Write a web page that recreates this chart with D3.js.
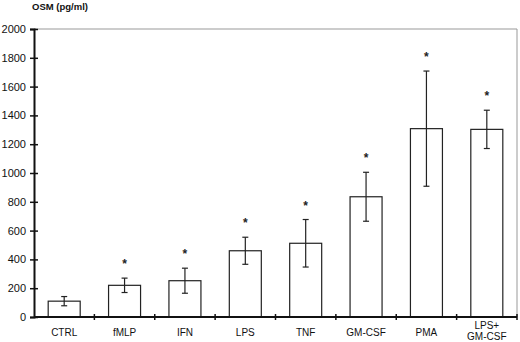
<!DOCTYPE html>
<html>
<head>
<meta charset="utf-8">
<script src="https://cdn.jsdelivr.net/npm/d3@7"></script>
<style>
  body { margin: 0; background: #fff; }
  svg { display: block; font-family: "Liberation Sans", Arial, sans-serif; }
</style>
</head>
<body>
<div id="chart"></div>
<script>
// OSM release per stimulus (pg/ml), mean and error bar half-length
const categories = ['CTRL', 'fMLP', 'IFN', 'LPS', 'TNF', 'GM-CSF', 'PMA', 'LPS+\nGM-CSF'];
const means = [110, 220, 252, 460, 512, 835, 1308, 1303];
const errors = [32, 50, 87, 94, 165, 170, 400, 133];
const significant = [false, true, true, true, true, true, true, true];
const yTicks = [0, 200, 400, 600, 800, 1000, 1200, 1400, 1600, 1800, 2000];

const width = 520, height = 342;
const margin = { top: 29, right: 3, bottom: 25, left: 34 };
const W = width - margin.left - margin.right;
const H = height - margin.top - margin.bottom;

const data = categories.map((c, i) => ({ cat: c, mean: means[i], err: errors[i], sig: significant[i] }));

const x = d3.scaleBand().domain(categories).range([0, W])
  .paddingInner(0.47).paddingOuter(0.235);
const y = d3.scaleLinear().domain([0, 2000]).range([H, 0]);

const svg = d3.select('#chart').append('svg')
  .attr('width', width).attr('height', height);

svg.append('text').attr('x', 32).attr('y', 10)
  .attr('font-size', '9.5px').attr('font-weight', '700').attr('fill', '#111')
  .text('OSM (pg/ml)');

const g = svg.append('g').attr('transform', `translate(${margin.left},${margin.top})`);

// plot frame (top and right, gray)
g.append('line').attr('x1', 0).attr('x2', W).attr('y1', y(2000)).attr('y2', y(2000))
  .attr('stroke', '#999').attr('stroke-width', 1);
g.append('line').attr('x1', W).attr('x2', W).attr('y1', y(2000)).attr('y2', H)
  .attr('stroke', '#999').attr('stroke-width', 1);

// bars
g.selectAll('rect.bar').data(data).enter().append('rect')
  .attr('class', 'bar')
  .attr('x', d => x(d.cat)).attr('width', x.bandwidth())
  .attr('y', d => y(d.mean)).attr('height', d => H - y(d.mean))
  .attr('fill', '#fff').attr('stroke', '#222').attr('stroke-width', 1.2);

// error bars
const cx = d => x(d.cat) + x.bandwidth() / 2;
const eb = g.selectAll('g.err').data(data).enter().append('g').attr('class', 'err')
  .attr('stroke', '#222').attr('stroke-width', 1.2);
eb.append('line').attr('x1', cx).attr('x2', cx)
  .attr('y1', d => y(d.mean + d.err)).attr('y2', d => y(d.mean - d.err));
eb.append('line').attr('x1', d => cx(d) - 3).attr('x2', d => cx(d) + 3)
  .attr('y1', d => y(d.mean + d.err)).attr('y2', d => y(d.mean + d.err));
eb.append('line').attr('x1', d => cx(d) - 3).attr('x2', d => cx(d) + 3)
  .attr('y1', d => y(d.mean - d.err)).attr('y2', d => y(d.mean - d.err));

// significance stars
g.selectAll('text.star').data(data.filter(d => d.sig)).enter().append('text')
  .attr('class', 'star')
  .attr('x', cx).attr('y', d => y(d.mean + d.err) - 10)
  .attr('text-anchor', 'middle').attr('font-size', '12px').attr('font-weight', '700')
  .attr('fill', '#222').text('*');

// y axis
const yAxis = g.append('g')
  .call(d3.axisLeft(y).tickValues(yTicks).tickFormat(d3.format('d')).tickSize(4).tickPadding(4));
yAxis.select('.domain').attr('stroke', '#111').attr('stroke-width', 2);
yAxis.selectAll('.tick line').attr('x2', 4).attr('x1', -4).attr('stroke', '#111').attr('stroke-width', 1.5);
yAxis.selectAll('.tick text').attr('font-size', '11px').attr('fill', '#111')
  .attr('font-family', '"Liberation Sans", Arial, sans-serif').attr('x', -8);

// x axis baseline with crossing ticks at category boundaries
g.append('line').attr('x1', 0).attr('x2', W).attr('y1', H).attr('y2', H)
  .attr('stroke', '#111').attr('stroke-width', 2);
d3.range(1, categories.length + 1).forEach(i => {
  const bx = x.range()[0] + i * x.step();
  g.append('line').attr('x1', bx).attr('x2', bx).attr('y1', H - 3).attr('y2', H + 3)
    .attr('stroke', '#111').attr('stroke-width', 1.5);
});

// category labels
data.forEach(d => {
  const lines = d.cat.split('\n');
  const t = g.append('text').attr('x', cx(d))
    .attr('y', H + (lines.length > 1 ? 11.5 : 18.5))
    .attr('text-anchor', 'middle').attr('font-size', '10px').attr('fill', '#111');
  lines.forEach((l, j) => {
    t.append('tspan').attr('x', cx(d)).attr('dy', j === 0 ? 0 : 11.5).text(l);
  });
});
</script>
</body>
</html>
